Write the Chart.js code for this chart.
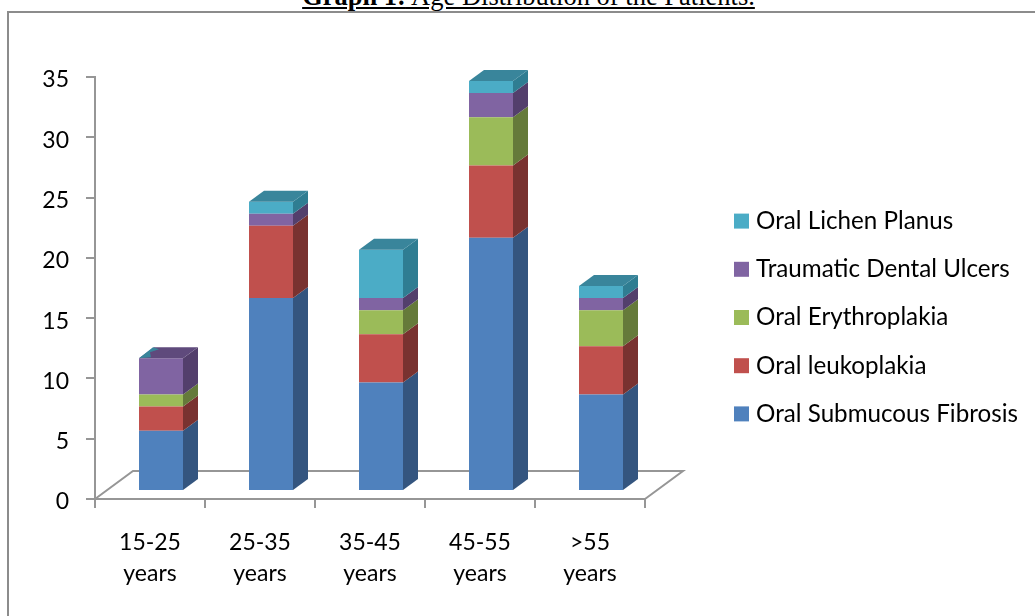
<!DOCTYPE html>
<html>
<head>
<meta charset="utf-8">
<script src="https://cdn.jsdelivr.net/npm/chart.js@4/dist/chart.umd.js"></script>
<style>
  html, body { margin: 0; padding: 0; background: #fff; overflow: hidden; }
  #wrap { position: relative; width: 1035px; height: 616px; overflow: hidden; }
  #frame { position: absolute; left: 7px; top: 11px; width: 1040px; height: 620px; border: 2px solid #8c8c8c; box-sizing: border-box; }
  #title { position: absolute; left: 0; top: -19px; width: 1057px; text-align: center; font: 26.5px "Liberation Serif", serif; color: #000; text-decoration: underline; white-space: nowrap; }
  canvas { position: absolute; left: 0; top: 0; }
</style>
</head>
<body>
<div id="wrap">
  <div id="frame"></div>
  <div id="title"><b>Graph 1:</b> Age Distribution of the Patients.</div>
  <canvas id="chart" width="1035" height="616"></canvas>
</div>
<script>
var categories = [["15-25", "years"], ["25-35", "years"], ["35-45", "years"], ["45-55", "years"], [">55", "years"]]
var submucous = [5, 16, 9, 21, 8]
var leukoplakia = [2, 6, 4, 6, 4]
var erythroplakia = [1, 0, 2, 4, 3]
var ulcers = [3, 1, 1, 2, 1]
var lichen = [0, 1, 4, 1, 1]
var yTicks = [0, 5, 10, 15, 20, 25, 30, 35]

var fronts = ["#4f81bd", "#c0504d", "#9bbb59", "#8064a2", "#4bacc6"]
var sides = ["#34557f", "#793230", "#657a3a", "#533f6c", "#2f7d92"]
var tops = ["#3d6391", "#8e3d3a", "#758d45", "#5f4a7c", "#39859b"]
var axisGrey = "#969696"
var fontName = "Lato"

// the bars sit a little in front of the floor, like Excel's 3D columns
var shiftX = 11, shiftY = -8
var depthX = 15, depthY = 11

function face(ctx, points, color) {
  ctx.fillStyle = color
  ctx.beginPath()
  ctx.moveTo(points[0][0], points[0][1])
  for (var i = 1; i < points.length; i++) ctx.lineTo(points[i][0], points[i][1])
  ctx.closePath()
  ctx.fill()
}

var box3d = {
  id: "box3d",
  afterLayout: function(chart) {
    // legend goes in the empty space right of the floor, it clips to its own box
    chart.legend.left = 715
    chart.legend.right = 1035
    chart.legend.width = 320
    chart.legend.top = 185
  },
  beforeDatasetsDraw: function(chart) {
    var ctx = chart.ctx, a = chart.chartArea
    // floor of the plot
    ctx.save()
    ctx.strokeStyle = axisGrey
    ctx.lineWidth = 2
    ctx.beginPath()
    ctx.moveTo(a.left, a.bottom)
    ctx.lineTo(a.left + 38, a.bottom - 28)
    ctx.lineTo(a.right + 38, a.bottom - 28)
    ctx.lineTo(a.right, a.bottom)
    ctx.stroke()
    ctx.restore()
    ctx.save()
    ctx.translate(shiftX, shiftY)
  },
  afterDatasetsDraw: function(chart) {
    var ctx = chart.ctx
    chart.data.datasets.forEach(function(ds, d) {
      var meta = chart.getDatasetMeta(d)
      meta.data.forEach(function(bar, i) {
        var right = bar.x + bar.width / 2, left = bar.x - bar.width / 2
        if (!ds.data[i]) {
          // empty top piece still leaves a sliver of its colour on the lid
          if (d == chart.data.datasets.length - 1) {
            face(ctx, [[left, bar.y], [left + 14, bar.y - 11], [left + 20, bar.y - 9], [left + 11, bar.y - 6], [left + 12, bar.y - 1]], tops[d])
          }
          return
        }
        face(ctx, [[right, bar.base], [right + depthX, bar.base - depthY], [right + depthX, bar.y - depthY], [right, bar.y]], sides[d])
        // top face only on the highest piece of the stack
        var above = 0
        for (var k = d + 1; k < chart.data.datasets.length; k++) above += chart.data.datasets[k].data[i]
        if (!above) face(ctx, [[left, bar.y], [left + depthX, bar.y - depthY], [right + depthX, bar.y - depthY], [right, bar.y]], tops[d])
      })
    })
    ctx.restore()
  },
}

function series(label, values, index) {
  return {
    label: label,
    data: values,
    backgroundColor: fronts[index],
    borderWidth: 0,
    barPercentage: 0.4,
    categoryPercentage: 1,
  }
}

new Chart(document.getElementById("chart"), {
  type: "bar",
  plugins: [box3d],
  data: {
    labels: categories,
    datasets: [
      series("Oral Submucous Fibrosis", submucous, 0),
      series("Oral leukoplakia", leukoplakia, 1),
      series("Oral Erythroplakia", erythroplakia, 2),
      series("Traumatic Dental Ulcers", ulcers, 3),
      series("Oral Lichen Planus", lichen, 4),
    ],
  },
  options: {
    responsive: false,
    animation: false,
    layout: { padding: { top: 77, right: 175, left: 0, bottom: 0 } },
    plugins: {
      tooltip: { enabled: false },
      title: { display: false },
      legend: {
        position: "right",
        align: "start",
        reverse: true,
        labels: {
          // small box with a thick border of the same colour, keeps the text close to the swatch
          boxWidth: 5,
          boxHeight: 5,
          padding: 24,
          color: "#000",
          font: { family: fontName, size: 24.2 },
          generateLabels: function(chart) {
            return Chart.defaults.plugins.legend.labels.generateLabels(chart).map(function(item) {
              item.lineWidth = 10
              item.strokeStyle = item.fillStyle
              return item
            })
          },
        },
      },
    },
    scales: {
      x: {
        stacked: true,
        afterFit: function(scale) { scale.height = 117 },
        border: { color: axisGrey, width: 2 },
        grid: { drawOnChartArea: false, color: axisGrey, lineWidth: 2, tickLength: 9, offset: true },
        ticks: { color: "#000", padding: 19, maxRotation: 0, font: { family: fontName, size: 23, lineHeight: 1.36 } },
      },
      y: {
        stacked: true,
        min: 0,
        max: 35,
        afterFit: function(scale) { scale.width = 95 },
        afterBuildTicks: function(scale) { scale.ticks = yTicks.map(function(v) { return { value: v } }) },
        border: { color: axisGrey, width: 2 },
        grid: { drawOnChartArea: false, color: axisGrey, lineWidth: 2, tickLength: 9 },
        ticks: { color: "#000", padding: 17, labelOffset: 3, font: { family: fontName, size: 23 } },
      },
    },
  },
})
</script>
</body>
</html>
